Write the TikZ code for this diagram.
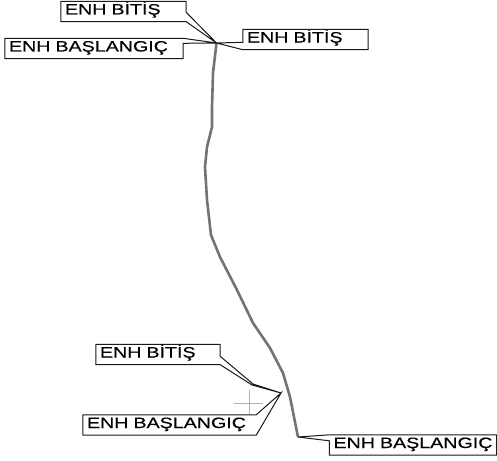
\documentclass[tikz,border=0pt]{standalone}
\usepackage{fontspec}
\setmainfont[FakeStretch=1.31,FakeBold=0.4]{Liberation Sans}
\tikzset{
  enhbox/.style={text width=#1-8pt, inner xsep=4pt, inner ysep=0pt, align=left, font=\fontsize{15}{15}\selectfont, text height=13pt, text depth=7pt},
  callout/.style={draw=black!90, line width=1pt, line join=miter},
  trace/.style={draw=black!55, line width=2.6pt, line join=round},
  crosshair/.style={draw=black!30, line width=0.8pt}
}

\begin{document}
\begin{tikzpicture}[x=1pt, y=-1pt]
\useasboundingbox (0,0) rectangle (497,460);

% Define coordinates for the tips
\coordinate (tiptop) at (216.5,43);
\coordinate (tipmid) at (281,393);
\coordinate (tipend) at (298,437);
\coordinate (crs) at (249,403);

% Define the labels
\node[enhbox=125pt] (bitis1) at (123.5,11.5) {ENH BİTİŞ};
\node[enhbox=178pt] (bas1) at (94,48.5) {ENH BAŞLANGIÇ};
\node[enhbox=125pt] (bitis2) at (305.5,39.5) {ENH BİTİŞ};
\node[enhbox=124pt] (bitis3) at (158,354.5) {ENH BİTİŞ};
\node[enhbox=173pt] (bas2) at (169.5,425) {ENH BAŞLANGIÇ};
\node[enhbox=167pt] (bas3) at (413,445) {\mbox{ENH BAŞLANGIÇ}};

% Draw the main line
\draw[trace] (tiptop) -- (213,73) -- (212,107) -- (212,127) -- (207,147) -- (205,167) -- (207,200) -- (211,235)
  -- (220,257) -- (237,290) -- (253,323) -- (270,348) -- (283,373) -- (290,397) -- (tipend);

% Draw the label outlines with their leaders
\draw[callout] (tiptop) -- ([yshift=-11pt]bitis1.north east) -- (bitis1.north east) -- (bitis1.north west) -- (bitis1.south west) -- (bitis1.south east) -- cycle;
\draw[callout] (tiptop) -- ([yshift=-5pt]bas1.north east) -- (bas1.south east) -- (bas1.south west) -- (bas1.north west) -- (bas1.north east) -- cycle;
\draw[callout] (tiptop) -- ([yshift=-13pt]bitis2.north west) -- (bitis2.north west) -- (bitis2.north east) -- (bitis2.south east) -- (bitis2.south west) -- cycle;
\draw[callout] (tipmid) -- (253,384) -- ([yshift=-12pt]bitis3.north east) -- (bitis3.north east) -- (bitis3.north west) -- (bitis3.south west) -- (bitis3.south east) -- (252,385) -- cycle;
\draw[callout] (tipmid) -- (bas2.north east) -- (bas2.north west) -- (bas2.south west) -- (bas2.south east) -- cycle;
\draw[callout] (tipend) -- (bas3.north west) -- (bas3.north east) -- (bas3.south east) -- (bas3.south west) -- ([yshift=-6pt]bas3.north west) -- cycle;

% Draw the cross
\draw[crosshair] ([xshift=-15pt]crs) -- ([xshift=14pt]crs);
\draw[crosshair] ([yshift=13pt]crs) -- ([yshift=-11pt]crs);

\end{tikzpicture}
\end{document}
